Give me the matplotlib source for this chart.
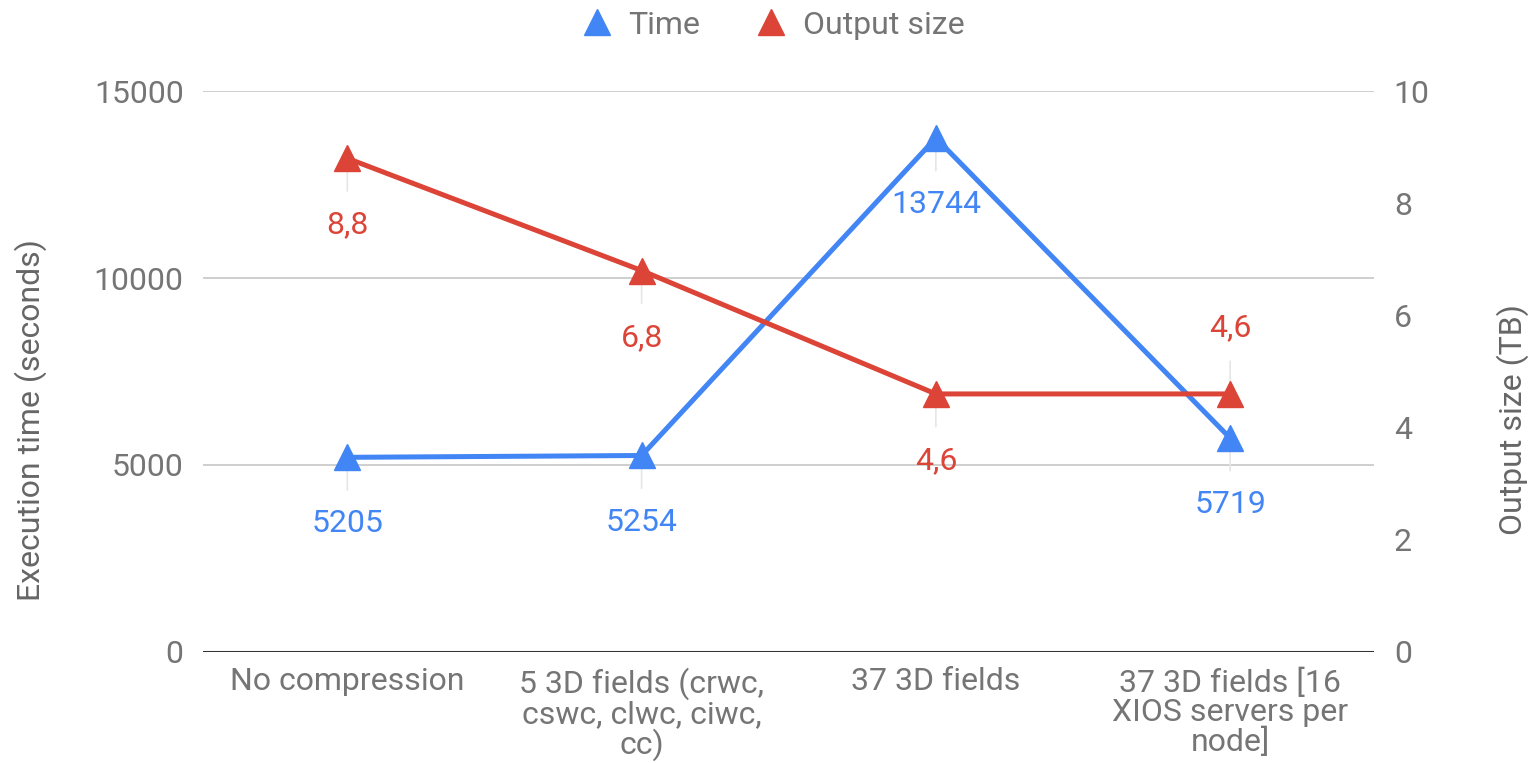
import matplotlib
matplotlib.use('Agg')
from matplotlib import pyplot as plt
from matplotlib.lines import Line2D

categories = ['No compression', '5 3D fields (crwc,\ncswc, clwc, ciwc,\ncc)',
              '37 3D fields', '37 3D fields [16\nXIOS servers per\nnode]']
time_s = [5205, 5254, 13744, 5719]
size_tb = [8.8, 6.8, 4.6, 4.6]
size_labels = ['8,8', '6,8', '4,6', '4,6']
# +1 puts the value label above the point, -1 below
size_label_side = [-1, -1, -1, 1]

blue = '#4285F4'
red = '#DB4437'
grey = '#757575'
fs = 23

plt.rcParams['font.family'] = ['Roboto', 'DejaVu Sans']

fig = plt.figure(figsize=(15.39, 7.63), dpi=100)
ax = fig.add_axes([0.132, 0.1455, 0.761, 0.7352])
ax2 = ax.twinx()

x = list(range(len(categories)))

ax.plot(x, time_s, color=blue, lw=3.6, marker='^', ms=19, zorder=5, clip_on=False)
ax2.plot(x, size_tb, color=red, lw=3.6, marker='^', ms=19, zorder=5, clip_on=False)

def label(axis, xi, yi, txt, color, side):
    axis.annotate(txt, (xi, yi), xytext=(0, 48 * side), textcoords='offset points',
                  ha='center', va='center', fontsize=fs, color=color, zorder=2,
                  arrowprops=dict(arrowstyle='-', color='#e6e6e6', lw=1.2,
                                  shrinkA=12, shrinkB=0))

for xi, yi in zip(x, time_s):
    label(ax, xi, yi, str(yi), blue, -1)
for xi, yi, txt, side in zip(x, size_tb, size_labels, size_label_side):
    label(ax2, xi, yi, txt, red, side)

ax.set_xlim(-0.49, 3.49)
ax.set_ylim(0, 15000)
ax2.set_ylim(0, 10)
ax.set_yticks([0, 5000, 10000, 15000])
ax2.set_yticks([0, 2, 4, 6, 8, 10])
ax.set_xticks(x)
ax.set_xticklabels(categories, linespacing=1.0)

ax.grid(axis='y', color='#cccccc', lw=1.3)
ax.axhline(0, color='#333333', lw=2.2, zorder=3)
for a in (ax, ax2):
    for s in a.spines.values():
        s.set_visible(False)
    a.tick_params(length=0, labelsize=fs, labelcolor=grey)
ax.tick_params(axis='y', pad=14)
ax.tick_params(axis='x', pad=11)
ax2.tick_params(axis='y', pad=14)

ax.set_ylabel('Execution time (seconds)', fontsize=fs, color='#666666')
ax2.set_ylabel('Output size (TB)', fontsize=fs, color='#666666')
ax.yaxis.set_label_coords(-0.133, 0.414)
ax2.yaxis.set_label_coords(1.104, 0.414)

handles = [Line2D([], [], color=blue, marker='^', ls='none', ms=19),
           Line2D([], [], color=red, marker='^', ls='none', ms=19)]
leg = fig.legend(handles, ['Time', 'Output size'], loc='center', bbox_to_anchor=(0.502, 0.967),
                 ncol=2, frameon=False, fontsize=fs, handlelength=1.0,
                 handletextpad=0.5, columnspacing=1.7)
for t in leg.get_texts():
    t.set_color(grey)

fig.savefig('out.png', dpi=100)
